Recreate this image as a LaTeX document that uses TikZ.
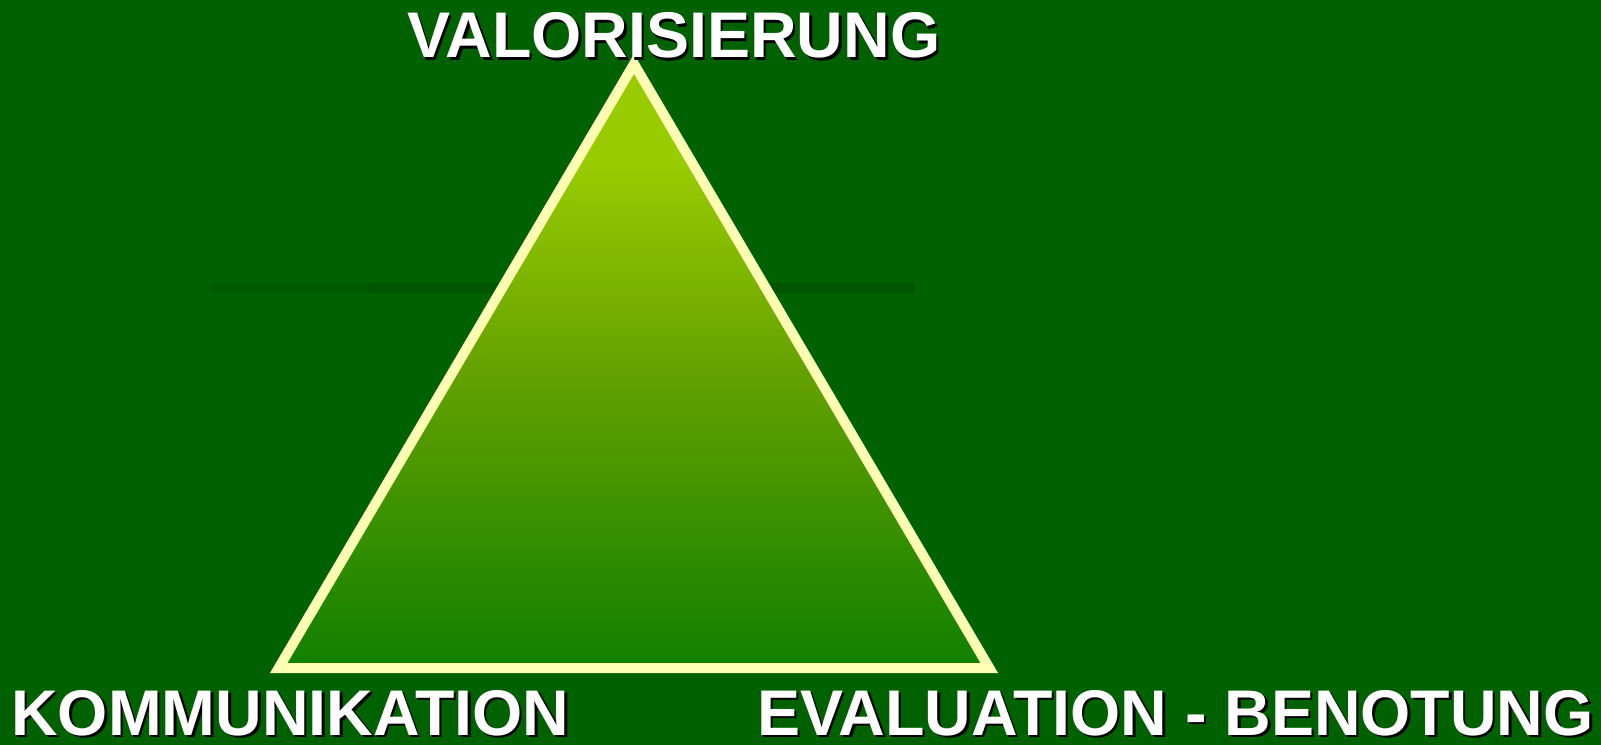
\documentclass[tikz,border=0pt]{standalone}
\usepackage{fontspec}
\setmainfont{Liberation Sans}
\definecolor{bg}{RGB}{0,97,0}
\definecolor{barA}{RGB}{0,90,0}
\definecolor{barB}{RGB}{0,84,0}
\definecolor{triTop}{RGB}{153,204,0}
\definecolor{triMid}{RGB}{102,162,0}
\definecolor{triBot}{RGB}{16,128,0}
\definecolor{triLine}{RGB}{255,255,180}
\pgfdeclareverticalshading{trishade}{100bp}{color(0bp)=(triBot); color(25bp)=(triBot); color(50bp)=(triMid); color(67bp)=(triTop); color(100bp)=(triTop)}
\tikzset{
  lbl/.style={inner sep=0pt, anchor=base west, text depth=0pt, text=white, font=\bfseries\fontsize{48.4pt}{50pt}\selectfont},
  lblshadow/.style={lbl, text=black},
}
\begin{document}
\begin{tikzpicture}[x=0.75pt,y=-0.75pt]
\fill[bg] (0,0) rectangle (1601,745);
\useasboundingbox (0,0) rectangle (1601,745);
% faint bar behind the triangle
\fill[barA] (211,283) rectangle (369,293);
\fill[barB] (369,283) rectangle (915,293);
% triangle
\coordinate (apex) at (634,64);
\coordinate (bl) at (278.7,668);
\coordinate (br) at (989.3,668);
\path[shading=trishade, draw=triLine, line width=7.5pt, line join=miter]
  (apex) -- (br) -- (bl) -- cycle;
% labels with shadows
\node[lblshadow] (valS) at (409.5,60.5) {VALORISIERUNG};
\node[lbl] (val) at (407,58) {VALORISIERUNG};
\node[lblshadow] (komS) at (13.5,737.5) {KOMMUNIKATION};
\node[lbl] (kom) at (11,735) {KOMMUNIKATION};
\node[lblshadow] (evaS) at (759.5,737.5) {EVALUATION - BENOTUNG};
\node[lbl] (eva) at (757,735) {EVALUATION - BENOTUNG};
\end{tikzpicture}
\end{document}
